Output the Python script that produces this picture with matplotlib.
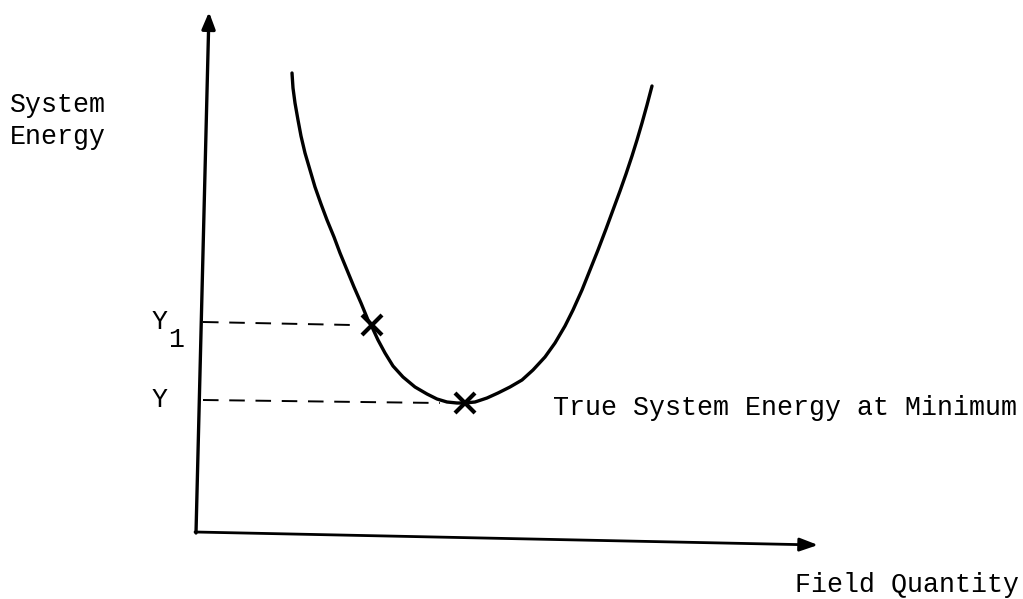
import matplotlib.pyplot as plt

# curve (pixel coordinates, y down)
curve_x = [292, 293, 295, 298, 301, 305, 310, 315, 321, 327, 334, 340, 347,
           354, 361, 368, 372, 378, 385, 393, 403, 415, 427, 437, 447, 457,
           465, 475, 487, 498, 510, 522, 533, 545, 555, 565, 573, 582, 590,
           598, 606, 613, 620, 626, 632, 637, 642, 647, 652]
curve_y = [73, 88, 103, 120, 136, 153, 170, 187, 204, 220, 237, 253, 270,
           287, 303, 320, 327, 340, 353, 366, 377, 387, 394, 399, 402, 403,
           403, 402, 398, 393, 387, 380, 370, 357, 343, 326, 310, 290, 270,
           250, 229, 210, 191, 174, 156, 140, 123, 105, 86]

# marked points: Y1 and the minimum Y
mark_x = [372, 465]
mark_y = [325, 403]
dash_end_x = [352, 440]
y_axis_x = 200

plt.rcParams['font.family'] = ['Liberation Mono', 'DejaVu Sans Mono']

fig = plt.figure(figsize=(10.23, 5.99), dpi=100)
ax = fig.add_axes([0, 0, 1, 1])
ax.set_xlim(0, 1023)
ax.set_ylim(599, 0)
ax.axis('off')

# axes with arrows
ax.annotate('', xy=(209, 12), xytext=(196, 533),
            arrowprops=dict(arrowstyle='-|>,head_length=1.0,head_width=0.4',
                            lw=2.4, color='black', shrinkA=0, shrinkB=0))
ax.annotate('', xy=(818, 545), xytext=(195, 532),
            arrowprops=dict(arrowstyle='-|>,head_length=1.1,head_width=0.4',
                            lw=2.0, color='black', shrinkA=0, shrinkB=0))

# energy curve
ax.plot(curve_x, curve_y, color='black', lw=2.4, solid_capstyle='round',
        solid_joinstyle='round')

# dashed guide lines and crosses
for my, ex in zip(mark_y, dash_end_x):
    ax.plot([y_axis_x + 3, ex], [my - 3, my], color='black', lw=1.4,
            linestyle=(0, (8, 5.5)))
ax.plot(mark_x, mark_y, linestyle='none', marker='x', markersize=15,
        mew=3, color='black')

fs = 19.2
ax.text(10, 105, "System", fontsize=fs, va='center', ha='left')
ax.text(10, 137, "Energy", fontsize=fs, va='center', ha='left')
ax.text(152, 322, "Y", fontsize=fs, va='center', ha='left')
ax.text(168, 340, "1", fontsize=fs, va='center', ha='left')
ax.text(152, 400, "Y", fontsize=fs, va='center', ha='left')
ax.text(553, 408, "True System Energy at Minimum", fontsize=fs,
        va='center', ha='left')
ax.text(795, 585, "Field Quantity", fontsize=fs, va='center', ha='left')

fig.savefig('out.png', dpi=100, facecolor='white')
